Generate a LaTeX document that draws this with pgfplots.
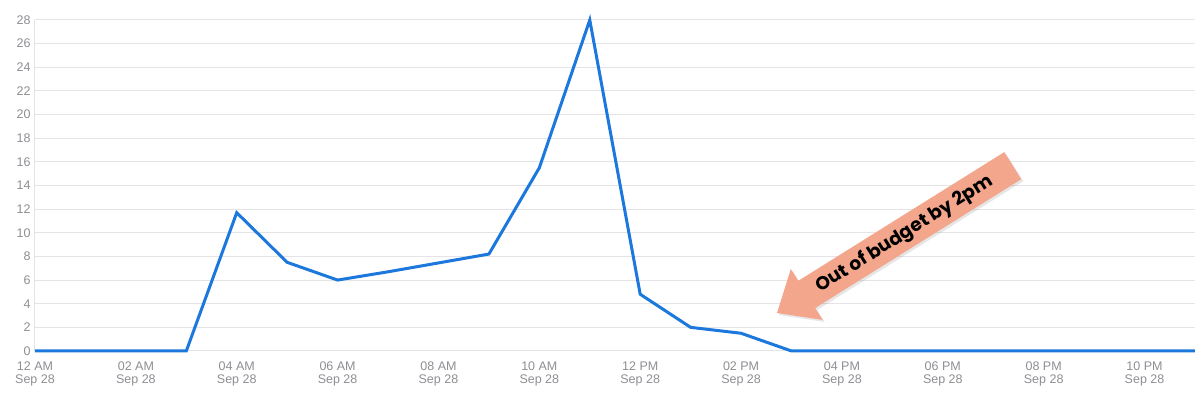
\documentclass[border=0pt]{standalone}
\usepackage{fontspec}
\setmainfont{Liberation Sans}
\newfontfamily\arrowfont{Poppins}
\usepackage{pgfplots}
\pgfplotsset{compat=1.18}
\usetikzlibrary{shadows}
\definecolor{lineblue}{RGB}{28,120,220}
\definecolor{gridgray}{RGB}{228,228,230}
\definecolor{labelgray}{RGB}{142,142,147}
\definecolor{salmon}{RGB}{244,166,140}
\pgfplotstableread{
h v
0 0
1 0
2 0
3 0
4 11.7
5 7.5
6 6.0
7 6.7
8 7.45
9 8.2
10 15.5
11 28
12 4.8
13 2.0
14 1.5
15 0
16 0
17 0
18 0
19 0
20 0
21 0
22 0
23 0
}\datatable
\begin{document}
\begin{tikzpicture}
\begin{axis}[
  scale only axis,
  width=1160pt, height=331pt,
  xmin=0, xmax=23, ymin=0, ymax=28,
  axis lines*=left,
  axis line style={gridgray, line width=1pt},
  major tick length=0pt,
  ytick={0,2,...,28},
  xtick={0,2,...,22},
  xticklabels={{12 AM\\Sep 28},{02 AM\\Sep 28},{04 AM\\Sep 28},{06 AM\\Sep 28},{08 AM\\Sep 28},{10 AM\\Sep 28},{12 PM\\Sep 28},{02 PM\\Sep 28},{04 PM\\Sep 28},{06 PM\\Sep 28},{08 PM\\Sep 28},{10 PM\\Sep 28}},
  xticklabel style={align=center, font=\fontsize{12.5}{13.5}\selectfont, text=labelgray, yshift=-7pt},
  yticklabel style={font=\fontsize{12.5}{14}\selectfont, text=labelgray, xshift=-1pt},
  /pgf/number format/assume math mode=true,
  ymajorgrids,
  grid style={gridgray, line width=1pt},
  clip=false,
]
\addplot[lineblue, line width=3pt, line join=miter] table[x=h, y=v] {\datatable};
\end{axis}
% annotation arrow (pixel coords: x-35, 351-y)
\begin{scope}[shift={(742pt,38pt)}, rotate=32]
  \fill[salmon, drop shadow={opacity=0.2, shadow xshift=2pt, shadow yshift=-2pt}]
    (0,0) -- (35pt,30pt) -- (35pt,16pt) -- (278pt,16pt) -- (278pt,-16pt) -- (35pt,-16pt) -- (35pt,-30pt) -- cycle;
  \node[transform shape, font=\arrowfont\bfseries\fontsize{18.5}{20}\selectfont, text=black, inner sep=0pt] at (150pt,-1pt) {Out of budget by 2pm};
\end{scope}
\path (-35pt,-42pt) rectangle (1167pt,351pt);
\end{tikzpicture}
\end{document}
